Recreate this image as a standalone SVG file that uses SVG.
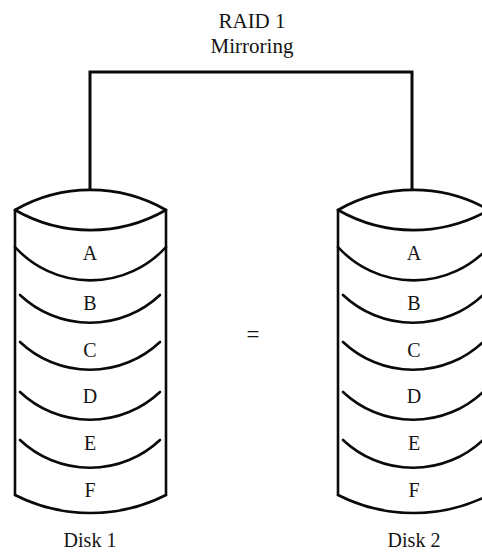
<svg xmlns="http://www.w3.org/2000/svg" xmlns:xlink="http://www.w3.org/1999/xlink" width="482" height="552" viewBox="0 0 482 552">
  <style>
    .ln { fill: none; stroke: #0a0a0a; stroke-width: 2.6; stroke-linecap: round; stroke-linejoin: miter; }
    .wire { fill: none; stroke: #0a0a0a; stroke-width: 3; }
    .t { font-family: "Liberation Serif", "Times New Roman", serif; font-size: 20px; fill: #141414; text-anchor: middle; }
    .title { font-size: 21px; }
    .eq { font-size: 23px; }
  </style>
  <defs>
    <!-- stacked-platter cylinder, left edge at x=15, right edge at x=166 -->
    <g id="cylinder">
      <path class="ln" d="M15,210 A152,152 0 0 1 166,210"/>
      <path class="ln" d="M15,210 A152,152 0 0 0 166,210"/>
      <path class="ln" d="M15,210 V495 M166,210 V495"/>
      <path class="ln" d="M15,495 A167,167 0 0 0 166,495"/>
      <path class="ln" d="M15,247 A102,102 0 0 0 166,247"/>
      <path class="ln" d="M20,295 A102,102 0 0 0 160,295"/>
      <path class="ln" d="M20,342 A102,102 0 0 0 160,342"/>
      <path class="ln" d="M20,392 A102,102 0 0 0 160,392"/>
      <path class="ln" d="M20,440 A102,102 0 0 0 160,440"/>
    </g>
  </defs>

  <!-- array label -->
  <g id="raid-label">
    <text class="t title" x="252" y="28">RAID 1</text>
    <text class="t title" x="252" y="53">Mirroring</text>
  </g>

  <!-- controller wiring to both disks -->
  <g id="connectors">
    <path class="wire" d="M90,190 V72 H412 V190"/>
  </g>

  <g id="disk1">
    <use xlink:href="#cylinder"/>
    <text class="t" x="90" y="260">A</text>
    <text class="t" x="90" y="310">B</text>
    <text class="t" x="90" y="357">C</text>
    <text class="t" x="90" y="403">D</text>
    <text class="t" x="90" y="450">E</text>
    <text class="t" x="90" y="497">F</text>
    <text class="t" x="90" y="547">Disk 1</text>
  </g>

  <g id="equals">
    <text class="t eq" x="253" y="342">=</text>
  </g>

  <g id="disk2">
    <use xlink:href="#cylinder" transform="translate(323,0)"/>
    <text class="t" x="414" y="260">A</text>
    <text class="t" x="414" y="310">B</text>
    <text class="t" x="414" y="357">C</text>
    <text class="t" x="414" y="403">D</text>
    <text class="t" x="414" y="450">E</text>
    <text class="t" x="414" y="497">F</text>
    <text class="t" x="414" y="547">Disk 2</text>
  </g>
</svg>
